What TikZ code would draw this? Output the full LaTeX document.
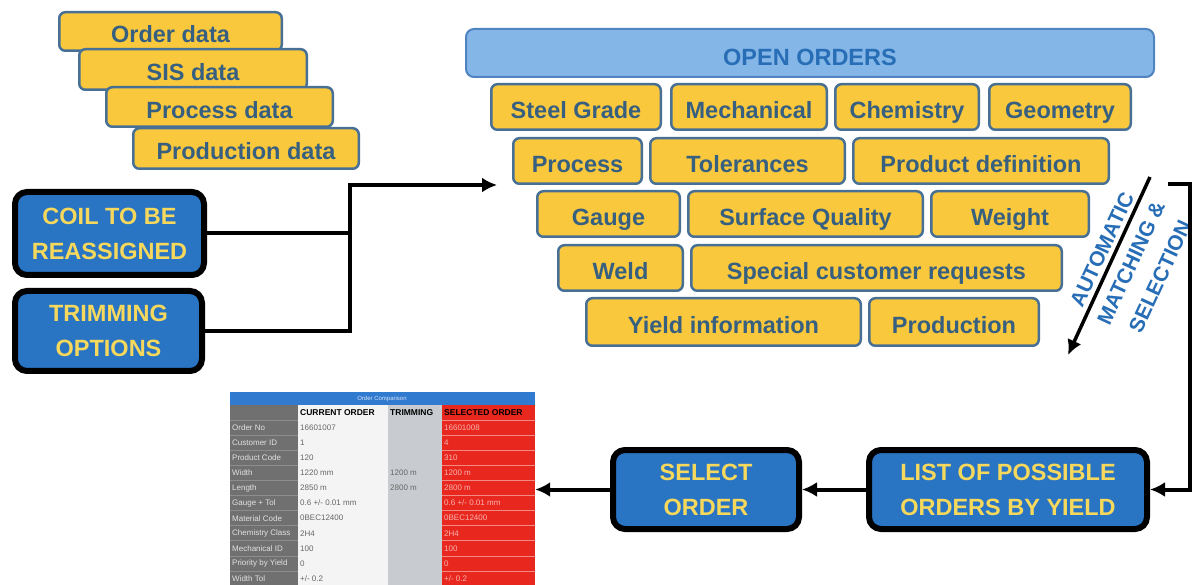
\documentclass[tikz,border=0pt]{standalone}
\usepackage{fontspec}
\setmainfont{Liberation Sans}
\usetikzlibrary{arrows.meta}
\definecolor{boxfill}{RGB}{250,200,60}
\definecolor{boxline}{RGB}{72,112,148}
\definecolor{boxtext}{RGB}{55,95,128}
\definecolor{barfill}{RGB}{132,182,232}
\definecolor{barline}{RGB}{80,132,192}
\definecolor{bartext}{RGB}{40,110,182}
\definecolor{actfill}{RGB}{42,116,196}
\definecolor{acttext}{RGB}{245,216,92}
\definecolor{tbltitle}{RGB}{48,122,208}
\definecolor{tblgrey}{RGB}{112,112,112}
\definecolor{tblwhite}{RGB}{244,244,244}
\definecolor{tbltrim}{RGB}{200,204,208}
\definecolor{tblred}{RGB}{232,40,30}

\begin{document}
\begin{tikzpicture}[x=1pt,y=-1pt]
        \tikzstyle{datum}=[rectangle,rounded corners=6pt,line width=2.5pt,draw=boxline,fill=boxfill,text=boxtext,inner sep=0pt,minimum height=45.5pt,text height=24pt,text depth=1pt,font=\fontsize{23.5}{28}\selectfont\bfseries]
        \tikzstyle{openbar}=[rectangle,rounded corners=8pt,line width=2pt,draw=barline,fill=barfill,text=bartext,inner sep=0pt,text height=25pt,text depth=0pt,font=\fontsize{23.5}{28}\selectfont\bfseries]
        \tikzstyle{action}=[rectangle,rounded corners=12pt,line width=6pt,draw=black,fill=actfill,text=acttext,align=center,inner sep=0pt,font=\fontsize{23.5}{35}\selectfont\bfseries]
        \tikzstyle{link}=[draw,line width=4pt]
        \tikzstyle{flow}=[link,-{Latex[length=15pt,width=15pt]}]
        \tikzstyle{cell}=[anchor=west,inner sep=0pt,font=\fontsize{8}{9}\selectfont]
        \useasboundingbox (0,0) rectangle (1195,585);
       % input data
       \begin{scope}
         \node [datum,minimum width=222.5pt,minimum height=38.5pt] (order) at (170.5,31.5) {Order data};
         \node [datum,minimum width=227.5pt,minimum height=40.5pt] (sis) at (193,69.5) {SIS data};
         \node [datum,minimum width=226.5pt,minimum height=39.5pt] (procdata) at (219.5,107) {Process data};
         \node [datum,minimum width=225.5pt,minimum height=40.5pt] (proddata) at (246,148.5) {Production data};
       \end{scope}
       % open orders
       \begin{scope}
         \node [openbar,minimum width=688pt,minimum height=48pt] (open) at (810,53) {OPEN ORDERS};
         \node [datum,minimum width=169.5pt] (grade) at (576,107) {Steel Grade};
         \node [datum,minimum width=155.5pt] (mech) at (749,107) {Mechanical};
         \node [datum,minimum width=143.5pt] (chem) at (907,107) {Chemistry};
         \node [datum,minimum width=141.5pt] (geom) at (1060,107) {Geometry};
         \node [datum,minimum width=128.5pt] (process) at (577.5,161) {Process};
         \node [datum,minimum width=194.5pt] (tol) at (747.5,161) {Tolerances};
         \node [datum,minimum width=255.5pt] (proddef) at (981,161) {Product definition};
         \node [datum,minimum width=142.5pt] (gauge) at (608.5,214) {Gauge};
         \node [datum,minimum width=234.5pt] (surface) at (805.5,214) {Surface Quality};
         \node [datum,minimum width=157.5pt] (weight) at (1010,214) {Weight};
         \node [datum,minimum width=124.5pt] (weld) at (620.5,268) {Weld};
         \node [datum,minimum width=370.5pt] (special) at (876.5,268) {Special customer requests};
         \node [datum,minimum width=274.5pt,minimum height=47.5pt] (yield) at (723.5,322) {Yield information};
         \node [datum,minimum width=169.5pt,minimum height=47.5pt] (production) at (954,322) {Production};
       \end{scope}
       % actions
       \node [action,minimum width=189pt,minimum height=83pt] (coil) at (109.5,233.5) {COIL TO BE\\REASSIGNED};
       \node [action,minimum width=187pt,minimum height=80pt] (trim) at (108.5,331) {TRIMMING\\OPTIONS};
       \node [action,minimum width=186pt,minimum height=79pt] (select) at (706,489.5) {SELECT\\ORDER};
       \node [action,minimum width=278pt,minimum height=79pt] (list) at (1008,489.5) {LIST OF POSSIBLE\\ORDERS BY YIELD};
       % matching
       \coordinate (junc) at (350,185);
       \coordinate (feed) at (497,185);
       \coordinate (matchA) at (1150,177);
       \coordinate (matchB) at (1068,355);
       \coordinate (back) at (1168,184);
       \node [rotate=65,text=bartext,align=center,inner sep=0pt,font=\fontsize{21}{32}\selectfont\bfseries] (auto) at (1131,263) {AUTOMATIC\\MATCHING \&\\SELECTION};
       % order comparison table
       \node [inner sep=0pt,minimum width=305pt,minimum height=193pt] (tbl) at (382.5,488.5) {};
       \begin{scope}
         \clip (230,392) rectangle (535,585);
         \fill [tbltitle] (230,392) rectangle (535,405);
         \fill [tblgrey] (230,405) rectangle (298,585);
         \fill [tblwhite] (298,405) rectangle (388,585);
         \fill [tbltrim] (388,405) rectangle (442,585);
         \fill [tblred] (442,405) rectangle (535,585);
         \node [inner sep=0pt,text=white!80!tbltitle,font=\fontsize{6}{7}\selectfont] (ttl) at (382,398.5) {Order Comparison};
         \node [cell,font=\fontsize{8.5}{9}\selectfont\bfseries] (hcur) at (300,412.5) {CURRENT ORDER};
         \node [cell,font=\fontsize{8.5}{9}\selectfont\bfseries] (htrm) at (390,412.5) {TRIMMING};
         \node [cell,font=\fontsize{8.5}{9}\selectfont\bfseries] (hsel) at (444,412.5) {SELECTED ORDER};
         \foreach \lab/\cur/\trm/\sel [count=\i] in {Order No/16601007//16601008,Customer ID/1//4,Product Code/120//310,Width/1220 mm/1200 m/1200 m,Length/2850 m/2800 m/2800 m,Gauge + Tol/{0.6 +/- 0.01 mm}//{0.6 +/- 0.01 mm},Material Code/0BEC12400//0BEC12400,Chemistry Class/2H4//2H4,Mechanical ID/100//100,Priority by Yield/0//0,Width Tol/{+/- 0.2}//{+/- 0.2}}{
           \pgfmathsetmacro\ry{420+15.1*(\i-0.5)}
           \pgfmathsetmacro\rl{420+15.1*(\i-1)}
           \draw [tblred!55!white,line width=0.8pt] (442,\rl) -- (535,\rl);
           \draw [tblgrey!80!white,line width=0.8pt] (230,\rl) -- (298,\rl);
           \node [cell,text=white!80!tblgrey] (lab\i) at (232,\ry) {\lab};
           \node [cell,text=black!60] (cur\i) at (300,\ry) {\cur};
           \node [cell,text=black!60] (trm\i) at (390,\ry) {\trm};
           \node [cell,text=white!65!tblred] (sel\i) at (444,\ry) {\sel};
         }
       \end{scope}
       % connectors
       \path [link] (coil.east) -- (coil.east -| junc);
       \path [flow] (trim.east) -| (junc) -- (feed);
       \path [flow,line width=3.5pt] (matchA) -- (matchB);
       \path [flow] (back) -- ++(22,0) |- (list.east);
       \path [flow] (list.west) -- (select.east);
       \path [flow] (select.west) -- (tbl.east |- select.west);
      \end{tikzpicture}
\end{document}
